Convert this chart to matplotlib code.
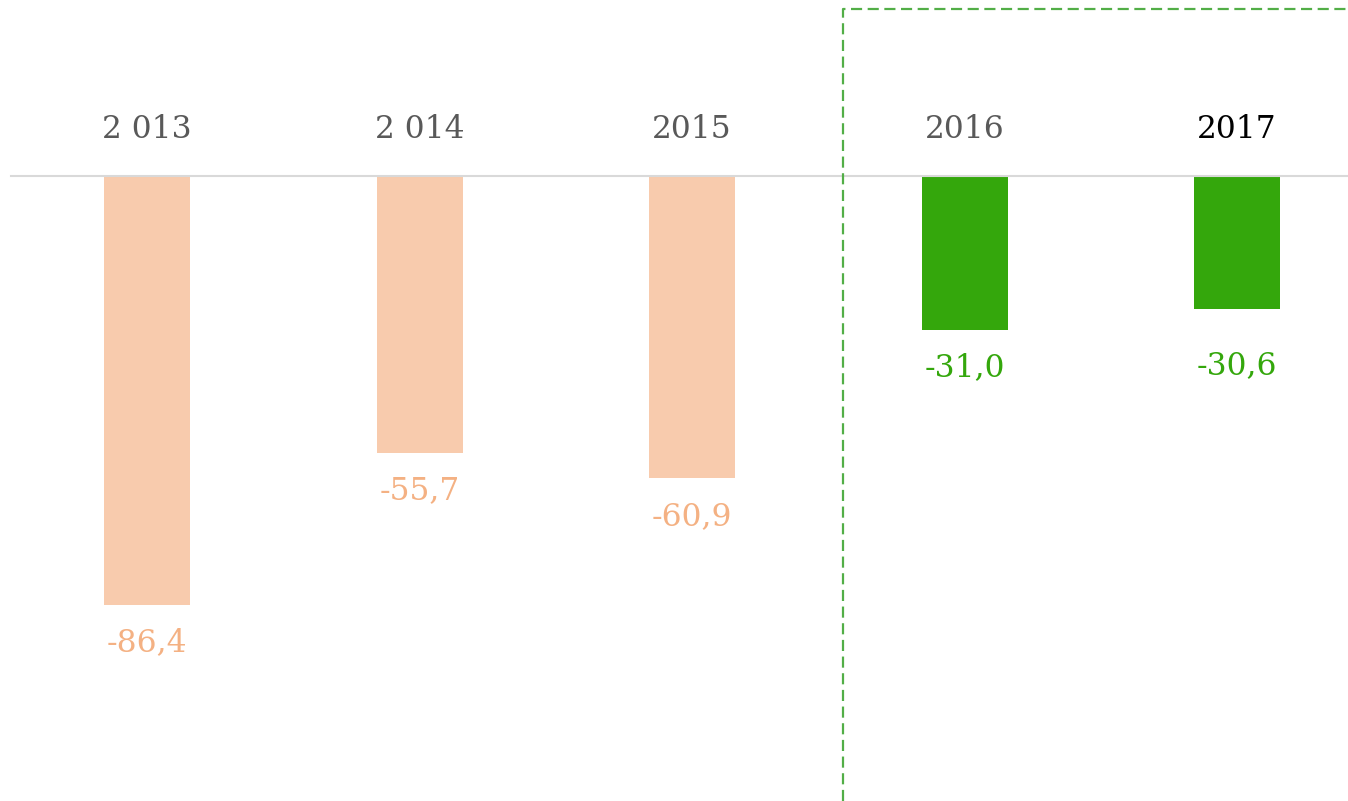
import matplotlib.pyplot as plt
from matplotlib.lines import Line2D

# data
YEARS = ["2 013", "2 014", "2015", "2016", "2017"]
BAR_VALUES = [-86.4, -55.7, -60.9, -31.0, -26.8]   # drawn bar heights
LABEL_VALUES = [-86.4, -55.7, -60.9, -31.0, -30.6]  # printed values
BAR_COLORS = ["#F8CBAD", "#F8CBAD", "#F8CBAD", "#34A70C", "#34A70C"]
LABEL_COLORS = ["#F4B183", "#F4B183", "#F4B183", "#34A70C", "#34A70C"]
YEAR_COLORS = ["#595959", "#595959", "#595959", "#595959", "#000000"]

W, H = 1348, 801
fig = plt.figure(figsize=(W / 100, H / 100), dpi=100)
ax = fig.add_axes([0, 0, 1, 1])
ax.set_axis_off()

x = list(range(len(YEARS)))
step = 272.5          # px between bar centres
ppu = 4.965           # px per unit on y
ax.set_xlim(-147 / step, len(YEARS) - 1 + (W - 1237) / step)
ax.set_ylim(-(H - 176) / ppu, 176 / ppu)

ax.bar(x, BAR_VALUES, width=86 / step, color=BAR_COLORS, zorder=2)
ax.axhline(0, xmin=11 / W, xmax=1, color="#D9D9D9", lw=1.5, zorder=3)

font = "DejaVu Serif"
for xi, yr, c in zip(x, YEARS, YEAR_COLORS):
    ax.text(xi, 46 / ppu, yr, ha="center", va="center", fontsize=22.5,
            family=font, color=c)

for xi, v, c in zip(x, LABEL_VALUES, LABEL_COLORS):
    s = f"{v:.1f}".replace(".", ",")
    ax.text(xi, v - 38 / ppu, s, ha="center", va="center", fontsize=22.5,
            family=font, color=c)

# dashed frame around forecast years
fx = 843 / W
fy = 1 - 9 / H
fig.add_artist(Line2D([fx, fx, 1.0], [0, fy, fy], transform=fig.transFigure,
                      color="#52AE47", lw=1.6, linestyle=(0, (5, 2.5))))

fig.savefig("out.png", dpi=100)
